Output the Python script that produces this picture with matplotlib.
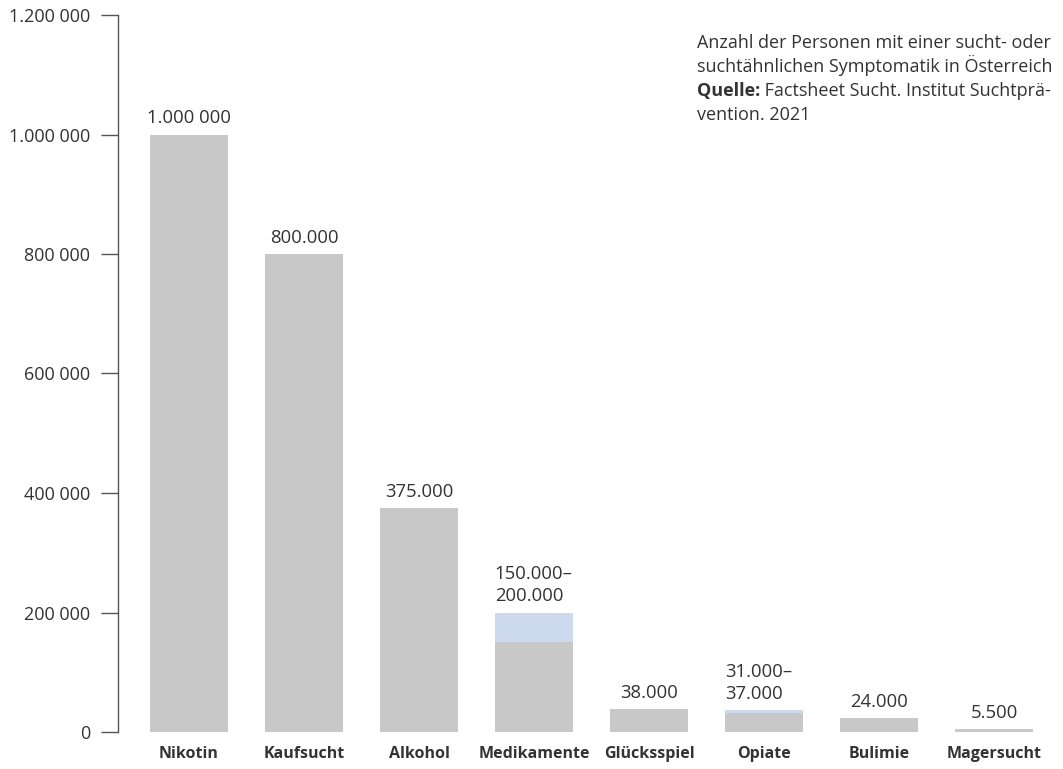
import matplotlib.pyplot as plt

plt.rcParams['font.family'] = ['Open Sans', 'DejaVu Sans']

kategorien = ["Nikotin", "Kaufsucht", "Alkohol", "Medikamente",
              "Glücksspiel", "Opiate", "Bulimie", "Magersucht"]
# lower value of each bar (grey part)
werte_min = [1000000, 800000, 375000, 150000, 38000, 31000, 24000, 5500]
# upper value of the range (blue part), same as min where no range
werte_max = [1000000, 800000, 375000, 200000, 38000, 37000, 24000, 5500]
beschriftung = ["1.000 000", "800.000", "375.000", "150.000–\n200.000",
                "38.000", "31.000–\n37.000", "24.000", "5.500"]
y_ticks = [0, 200000, 400000, 600000, 800000, 1000000, 1200000]
y_ticklabels = ["0", "200 000", "400 000", "600 000", "800 000",
                "1.000 000", "1.200 000"]

GRAU = '#c8c8c8'
BLAU = '#cdd9ec'
TEXT = '#333333'


def main():
    fig = plt.figure(figsize=(10.63, 7.69), dpi=100)
    ax = fig.add_axes([118 / 1063, 37 / 769, 945 / 1063, 717 / 769])

    x = list(range(len(kategorien)))
    breite = 0.68
    ax.bar(x, werte_min, width=breite, color=GRAU, zorder=2)
    diff = [hi - lo for lo, hi in zip(werte_min, werte_max)]
    ax.bar(x, diff, bottom=werte_min, width=breite, color=BLAU, zorder=2)

    for i, (wert, txt) in enumerate(zip(werte_max, beschriftung)):
        if "\n" in txt:
            ax.annotate(txt, xy=(i - breite / 2, wert), xytext=(0, 8),
                        textcoords='offset points', ha='left', va='baseline',
                        fontsize=13.3, color=TEXT, linespacing=1.3)
        else:
            ax.annotate(txt, xy=(i, wert), xytext=(0, 8),
                        textcoords='offset points', ha='center', va='baseline',
                        fontsize=13.3, color=TEXT)

    ax.set_xlim(-0.617, 7.6)
    ax.set_ylim(0, 1200000)
    ax.set_yticks(y_ticks)
    ax.set_yticklabels(y_ticklabels, fontsize=13, color=TEXT)
    ax.set_xticks(x)
    ax.set_xticklabels(kategorien, fontsize=11.5, fontweight='bold', color=TEXT)
    ax.tick_params(axis='x', length=0, pad=10)
    ax.tick_params(axis='y', length=12, width=1, color='#555555', pad=8)

    for s in ['top', 'right', 'bottom']:
        ax.spines[s].set_visible(False)
    ax.spines['left'].set_color('#555555')
    ax.spines['left'].set_linewidth(1)

    # source note, top right
    x0 = 697 / 1063
    fs = 13
    fig.text(x0, 1 - 48 / 769, "Anzahl der Personen mit einer sucht- oder",
             fontsize=fs, color=TEXT, va='baseline')
    fig.text(x0, 1 - 72 / 769, "suchtähnlichen Symptomatik in Österreich",
             fontsize=fs, color=TEXT, va='baseline')
    q = fig.text(x0, 1 - 96 / 769, "Quelle:", fontsize=fs, color=TEXT,
                 va='baseline', fontweight='bold')
    ax.annotate(" Factsheet Sucht. Institut Suchtprä-", xy=(1, 0), xycoords=q,
                va='bottom', ha='left', fontsize=fs, color=TEXT)
    fig.text(x0, 1 - 120 / 769, "vention. 2021",
             fontsize=fs, color=TEXT, va='baseline')

    fig.savefig('out.png', dpi=100)


if __name__ == '__main__':
    main()
